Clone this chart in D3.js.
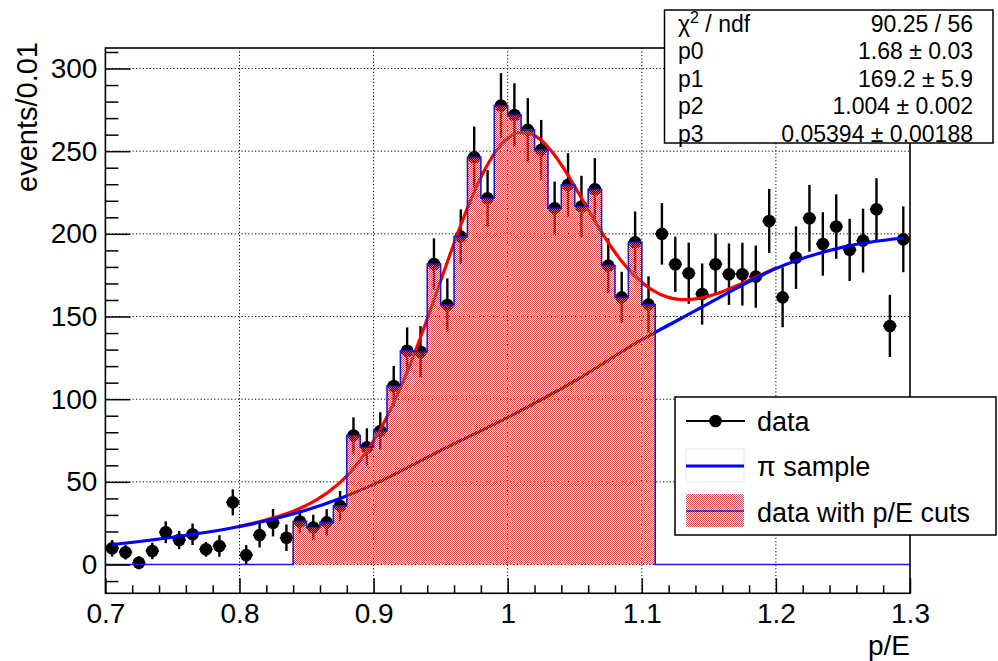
<!DOCTYPE html>
<html>
<head>
<meta charset="utf-8">
<script src="https://cdn.jsdelivr.net/npm/d3@7/dist/d3.min.js"></script>
<style>
  html, body { margin: 0; padding: 0; background: #fff; }
  svg { display: block; }
  text { font-family: "Liberation Sans", Arial, Helvetica, sans-serif; fill: #000; }
</style>
</head>
<body>
<svg id="chart" width="998" height="661"></svg>
<script>
// p/E distribution: 60 bins of 0.01 between 0.7 and 1.3
const binEdges = [0.7, 1.3];
const binWidth = 0.01;

// data (counts per bin) and their errors
const dataCounts = [
  9.8, 7.4, 1.1, 8.2, 19.5, 14.8, 18.3, 9.2, 11.2, 37.6,
  5.7, 17.8, 25.3, 16.2, 26.0, 22.4, 25.5, 35.5, 78.0, 70.9,
  80.8, 108.0, 129.3, 128.7, 181.8, 157.0, 198.3, 246.3, 221.5, 277.6,
  271.9, 262.9, 250.8, 215.5, 229.6, 216.5, 227.0, 180.8, 161.6, 194.9,
  157.2, 200.0, 181.6, 176.2, 163.6, 181.6, 175.6, 175.6, 174.1, 207.8,
  161.6, 185.6, 209.4, 193.9, 204.4, 190.3, 195.9, 214.9, 144.3, 196.7
];
const dataErrors = [
  5.0, 4.4, 4.0, 5.0, 6.6, 5.5, 6.5, 4.5, 6.5, 7.9,
  6.0, 7.5, 8.3, 8.0, 7.0, 7.7, 8.0, 9.0, 11.0, 11.5,
  11.3, 12.1, 14.1, 15.5, 15.5, 16.1, 16.5, 18.6, 17.1, 19.6,
  19.2, 19.2, 18.1, 16.1, 19.2, 18.6, 18.8, 16.5, 15.5, 18.6,
  17.1, 18.6, 16.7, 18.5, 18.5, 18.5, 18.6, 19.0, 18.8, 19.4,
  18.1, 18.9, 20.2, 19.2, 19.5, 18.8, 19.3, 18.8, 18.8, 19.9
];

// p/E window kept by the cuts
const cutRange = [0.84, 1.11];

// scaled pi sample shape
const piX = [0.705, 0.75, 0.80, 0.85, 0.875, 0.90, 0.95, 1.00, 1.05, 1.10, 1.125, 1.15, 1.175, 1.20, 1.25, 1.295];
const piY = [12.0, 16.5, 23.0, 33.0, 40.0, 48.5, 69.0, 89.0, 111.0, 136.0, 147.0, 158.0, 169.0, 179.0, 192.0, 197.5];

// fit: p0 * pi sample + p1 * gaus(p2, p3), fitted in [0.8, 1.2]
const fitRange = [0.8, 1.2];
const fitParams = [1.68, 169.2, 1.004, 0.05394];
const statsRows = [
  ["χ2 / ndf", "90.25 / 56"],
  ["p0", "1.68 ± 0.03"],
  ["p1", "169.2 ± 5.9"],
  ["p2", "1.004 ± 0.002"],
  ["p3", "0.05394 ± 0.00188"]
];

const xMajorTicks = [0.7, 0.8, 0.9, 1.0, 1.1, 1.2, 1.3];
const xTickLabels = ["0.7", "0.8", "0.9", "1", "1.1", "1.2", "1.3"];
const yMajorTicks = [0, 50, 100, 150, 200, 250, 300];
const legendLabels = ["data", "π sample", "data with p/E cuts"];
const xTitle = "p/E";
const yTitle = "events/0.01";

const svg = d3.select("#chart");
const W = 998, H = 661;
const frame = { left: 105.4, right: 910, top: 48, bottom: 593.3 };

const x = d3.scaleLinear().domain(binEdges).range([frame.left, frame.right]);
const y = d3.scaleLinear().domain([-17.4, 312.4]).range([frame.bottom, frame.top]);

svg.append("rect").attr("width", W).attr("height", H).attr("fill", "#fff");

// checkered fill for the cut histogram: every other pixel is red, the rest stays see-through
const defs = svg.append("defs");
const pat = defs.append("pattern")
  .attr("id", "checker").attr("patternUnits", "userSpaceOnUse")
  .attr("x", 0).attr("y", 0).attr("width", 2).attr("height", 2);
[[0, 0], [1, 1]].forEach(([px, py]) => {
  pat.append("rect").attr("x", px).attr("y", py).attr("width", 1).attr("height", 1)
    .attr("fill", "#d05050").attr("shape-rendering", "crispEdges");
});

// grid
const grid = svg.append("g").attr("stroke", "#000").attr("stroke-width", 1)
  .attr("stroke-dasharray", "1.2,2.2");
grid.selectAll("line.gx").data(xMajorTicks.slice(1, -1)).join("line")
  .attr("x1", d => x(d)).attr("x2", d => x(d))
  .attr("y1", frame.top).attr("y2", frame.bottom);
grid.selectAll("line.gy").data(yMajorTicks).join("line")
  .attr("x1", frame.left).attr("x2", frame.right)
  .attr("y1", d => y(d)).attr("y2", d => y(d));

// bins
const bins = dataCounts.map((v, i) => {
  const lo = binEdges[0] + i * binWidth;
  const c = lo + binWidth / 2;
  return { lo, hi: lo + binWidth, c, v, e: dataErrors[i] };
});

// data points with error bars
const pts = svg.append("g");
pts.selectAll("line.ev").data(bins).join("line")
  .attr("x1", d => x(d.c)).attr("x2", d => x(d.c))
  .attr("y1", d => y(d.v - d.e)).attr("y2", d => y(d.v + d.e))
  .attr("stroke", "#000").attr("stroke-width", 2.4);
pts.selectAll("line.eh").data(bins).join("line")
  .attr("x1", d => x(d.lo)).attr("x2", d => x(d.hi))
  .attr("y1", d => y(d.v)).attr("y2", d => y(d.v))
  .attr("stroke", "#000").attr("stroke-width", 1.5);
pts.selectAll("circle").data(bins).join("circle")
  .attr("cx", d => x(d.c)).attr("cy", d => y(d.v)).attr("r", 6.3)
  .attr("fill", "#000");

// pi sample curve
const piPts = piX.map((px, i) => [px, piY[i]]);
const piLine = d3.line().x(d => x(d[0])).y(d => y(d[1])).curve(d3.curveMonotoneX);
const bluePath = svg.append("path").attr("d", piLine(piPts))
  .attr("fill", "none").attr("stroke", "#0000ff").attr("stroke-width", 3.2);

// sample the pi sample curve so the fit uses the same shape
const pathNode = bluePath.node();
const L = pathNode.getTotalLength();
const samples = d3.range(0, 1501).map(k => {
  const p = pathNode.getPointAtLength(L * k / 1500);
  return [x.invert(p.x), y.invert(p.y)];
});
const bis = d3.bisector(d => d[0]).left;
function piAt(v) {
  let i = bis(samples, v);
  i = Math.max(1, Math.min(samples.length - 1, i));
  const a = samples[i - 1], b = samples[i];
  const t = (v - a[0]) / ((b[0] - a[0]) || 1);
  return a[1] + t * (b[1] - a[1]);
}
const [p0, p1, p2, p3] = fitParams;
const fitPts = d3.range(fitRange[0], fitRange[1] + 1e-9, 0.002).map(v =>
  [v, piAt(v) + p1 * Math.exp(-0.5 * Math.pow((v - p2) / p3, 2))]);
svg.insert("path", () => pathNode)
  .attr("d", d3.line().x(d => x(d[0])).y(d => y(d[1])).curve(d3.curveMonotoneX)(fitPts))
  .attr("fill", "none").attr("stroke", "#ff0000").attr("stroke-width", 3.2);

// histogram of data with p/E cuts
const cutVals = bins.map(b => (b.c > cutRange[0] && b.c < cutRange[1]) ? b.v : 0);
const stepPts = bins.map((b, i) => [b.lo, cutVals[i]]);
stepPts.push([binEdges[1], cutVals[cutVals.length - 1]]);
svg.append("path")
  .attr("d", d3.area().x(d => x(d[0])).y0(y(0)).y1(d => y(d[1])).curve(d3.curveStepAfter)(stepPts))
  .attr("fill", "url(#checker)").attr("stroke", "none");
svg.append("path")
  .attr("d", d3.line().x(d => x(d[0])).y(d => y(d[1])).curve(d3.curveStepAfter)(stepPts))
  .attr("fill", "none").attr("stroke", "#1a1ad0").attr("stroke-width", 1.6);

// axes
const font = 28;
const xAxis = d3.axisBottom(x).tickValues(xMajorTicks)
  .tickFormat((d, i) => xTickLabels[i]).tickSizeInner(-15).tickSizeOuter(0).tickPadding(10);
const gx = svg.append("g").attr("transform", `translate(0,${frame.bottom})`).call(xAxis);
gx.select(".domain").remove();
gx.selectAll("line").attr("stroke", "#000").attr("stroke-width", 1.5);
gx.selectAll("text").attr("font-size", font).attr("font-family", "Liberation Sans, Arial, sans-serif");
const xMinor = d3.axisBottom(x).tickValues(d3.range(0, 31).map(i => 0.7 + i * 0.02).filter((d, i) => i % 5 !== 0))
  .tickSizeInner(-8).tickSizeOuter(0).tickFormat("");
const gxm = svg.append("g").attr("transform", `translate(0,${frame.bottom})`).call(xMinor);
gxm.select(".domain").remove();
gxm.selectAll("line").attr("stroke", "#000").attr("stroke-width", 1.5);

const yAxis = d3.axisLeft(y).tickValues(yMajorTicks).tickFormat(d3.format("d"))
  .tickSizeInner(-25).tickSizeOuter(0).tickPadding(8);
const gy = svg.append("g").attr("transform", `translate(${frame.left},0)`).call(yAxis);
gy.select(".domain").remove();
gy.selectAll("line").attr("stroke", "#000").attr("stroke-width", 1.5);
gy.selectAll("text").attr("font-size", font).attr("font-family", "Liberation Sans, Arial, sans-serif");
const yMinor = d3.axisLeft(y).tickValues(d3.range(-10, 311, 10).filter(d => d % 50 !== 0))
  .tickSizeInner(-13).tickSizeOuter(0).tickFormat("");
const gym = svg.append("g").attr("transform", `translate(${frame.left},0)`).call(yMinor);
gym.select(".domain").remove();
gym.selectAll("line").attr("stroke", "#000").attr("stroke-width", 1.5);

// frame
svg.append("rect")
  .attr("x", frame.left).attr("y", frame.top)
  .attr("width", frame.right - frame.left).attr("height", frame.bottom - frame.top)
  .attr("fill", "none").attr("stroke", "#000").attr("stroke-width", 1.6);

// axis titles
svg.append("text").attr("x", frame.right).attr("y", 655)
  .attr("text-anchor", "end").attr("font-size", font).text(xTitle);
svg.append("text").attr("transform", `translate(37,${frame.top - 6}) rotate(-90)`)
  .attr("text-anchor", "end").attr("font-size", 29).text(yTitle);

// fit statistics box
const stats = svg.append("g");
stats.append("rect").attr("x", 664.5).attr("y", 10).attr("width", 328.5).attr("height", 133)
  .attr("fill", "#fff").attr("stroke", "#000").attr("stroke-width", 1.5);
statsRows.forEach((r, i) => {
  const by = 31.5 + i * 27.6;
  const lt = stats.append("text").attr("x", 678).attr("y", by).attr("font-size", 23);
  if (i === 0) {
    lt.append("tspan").text("χ");
    lt.append("tspan").attr("font-size", 16).attr("dy", -9).text("2");
    lt.append("tspan").attr("dy", 9).text(" / ndf");
  } else {
    lt.text(r[0]);
  }
  stats.append("text").attr("x", 973).attr("y", by).attr("font-size", 23)
    .attr("text-anchor", "end").text(r[1]);
});

// legend
const leg = svg.append("g");
leg.append("rect").attr("x", 675).attr("y", 397).attr("width", 321).attr("height", 138)
  .attr("fill", "#fff").attr("stroke", "#000").attr("stroke-width", 1.5);
leg.append("line").attr("x1", 686).attr("x2", 745).attr("y1", 421).attr("y2", 421)
  .attr("stroke", "#000").attr("stroke-width", 2);
leg.append("circle").attr("cx", 715.5).attr("cy", 421).attr("r", 6.3).attr("fill", "#000");
leg.append("rect").attr("x", 686).attr("y", 449).attr("width", 58).attr("height", 33)
  .attr("fill", "#fff").attr("stroke", "#e6e6e6").attr("stroke-width", 1);
leg.append("line").attr("x1", 686).attr("x2", 744).attr("y1", 466).attr("y2", 466)
  .attr("stroke", "#0000ff").attr("stroke-width", 3.2);
leg.append("rect").attr("x", 686).attr("y", 494).attr("width", 58).attr("height", 33)
  .attr("fill", "url(#checker)");
leg.append("line").attr("x1", 686).attr("x2", 744).attr("y1", 511).attr("y2", 511)
  .attr("stroke", "#1a1ad0").attr("stroke-width", 1.6);
legendLabels.forEach((t, i) => {
  leg.append("text").attr("x", 757).attr("y", 431 + i * 45.3).attr("font-size", 27).text(t);
});
</script>
</body>
</html>
